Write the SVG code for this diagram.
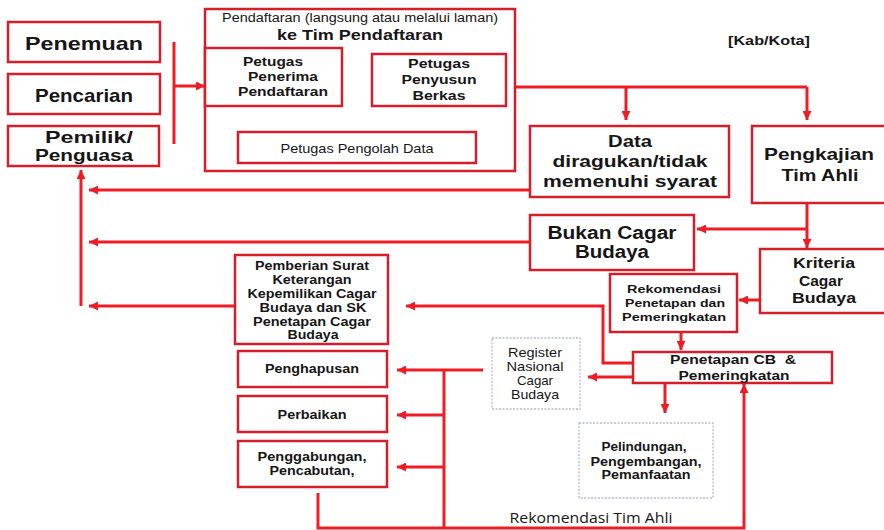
<svg xmlns="http://www.w3.org/2000/svg" width="884" height="530" viewBox="0 0 884 530">
<style>
.box{fill:#fff;stroke:#d41f2b;stroke-width:2.5}
.dbox{fill:#fff;stroke:#b3bcc6;stroke-width:1.3;stroke-dasharray:2 1.5}
.c{fill:none;stroke:#ee1c24;stroke-width:3}
.ca{fill:none;stroke:#ee1c24;stroke-width:3;marker-end:url(#ah)}
text{font-family:"Liberation Sans",Arial,sans-serif;fill:#161616;text-anchor:middle}
.b{font-weight:bold}
.o{font-family:"Open Sans","Liberation Sans",sans-serif}
</style>
<defs>
<marker id="ah" viewBox="0 0 10 10" refX="10" refY="5" markerWidth="10" markerHeight="9" markerUnits="userSpaceOnUse" orient="auto">
<path d="M0,0 L10,5 L0,10 z" fill="#ee1c24"/>
</marker>
</defs>
<rect width="884" height="530" fill="#fff"/>

<g id="connectors">
<path class="c" d="M174,42 V144"/>
<path class="ca" d="M174,86 H205"/>
<path class="ca" d="M293,106 V132"/>
<path class="ca" d="M419,132 V106"/>
<path class="c" d="M515,87 H807"/>
<path class="ca" d="M626,87 V120"/>
<path class="ca" d="M807,87 V120"/>
<path class="ca" d="M530,190 H89"/>
<path class="ca" d="M530,242 H89"/>
<path class="ca" d="M235,306 H89"/>
<path class="ca" d="M81,306 V170"/>
<path class="ca" d="M807,203 V248"/>
<path class="ca" d="M807,229 H697"/>
<path class="ca" d="M760,300 H739"/>
<path class="ca" d="M681,332 V350"/>
<path class="ca" d="M633,363 H603 V306 H406"/>
<path class="ca" d="M633,377 H588"/>
<path class="ca" d="M665,383 V413"/>
<path class="ca" d="M483,370 H397"/>
<path class="c" d="M444,370 V528"/>
<path class="ca" d="M444,415 H397"/>
<path class="ca" d="M444,467 H397"/>
<path class="ca" d="M318,493 V528 H744 V384"/>
</g>

<g id="penemuan"><rect class="box" x="8" y="22" width="152" height="40"/>
<text class="b" x="84" y="50" font-size="19" textLength="118" lengthAdjust="spacingAndGlyphs">Penemuan</text></g>
<g id="pencarian"><rect class="box" x="8" y="74" width="152" height="40"/>
<text class="b" x="84" y="102" font-size="19" textLength="98" lengthAdjust="spacingAndGlyphs">Pencarian</text></g>
<g id="pemilik"><rect class="box" x="8" y="126" width="151" height="40"/>
<text class="b" x="89" y="143" font-size="17" textLength="88" lengthAdjust="spacingAndGlyphs">Pemilik/</text>
<text class="b" x="84" y="161" font-size="17" textLength="98" lengthAdjust="spacingAndGlyphs">Penguasa</text></g>

<g id="pendaftaran"><rect class="box" x="205" y="9" width="310" height="162"/>
<text x="360" y="22" font-size="12.5" textLength="276" lengthAdjust="spacingAndGlyphs">Pendaftaran (langsung atau melalui laman)</text>
<text class="b" x="360" y="40" font-size="15" textLength="166" lengthAdjust="spacingAndGlyphs">ke Tim Pendaftaran</text></g>
<g id="penerima"><rect class="box" x="205" y="48" width="137" height="58"/>
<text class="b" x="273" y="66" font-size="13" textLength="60" lengthAdjust="spacingAndGlyphs">Petugas</text>
<text class="b" x="283" y="81" font-size="13" textLength="70" lengthAdjust="spacingAndGlyphs">Penerima</text>
<text class="b" x="283" y="96" font-size="13" textLength="90" lengthAdjust="spacingAndGlyphs">Pendaftaran</text></g>
<g id="penyusun"><rect class="box" x="372" y="54" width="134" height="52"/>
<text class="b" x="439" y="68" font-size="13" textLength="62" lengthAdjust="spacingAndGlyphs">Petugas</text>
<text class="b" x="439" y="84" font-size="13" textLength="75" lengthAdjust="spacingAndGlyphs">Penyusun</text>
<text class="b" x="439" y="100" font-size="13" textLength="53" lengthAdjust="spacingAndGlyphs">Berkas</text></g>
<g id="pengolah"><rect class="box" x="238" y="132" width="238" height="31"/>
<text x="357" y="153" font-size="13.5" textLength="153" lengthAdjust="spacingAndGlyphs">Petugas Pengolah Data</text></g>

<g id="kabkota"><text class="b" x="769" y="45" font-size="12.5" textLength="82" lengthAdjust="spacingAndGlyphs">[Kab/Kota]</text></g>

<g id="data"><rect class="box" x="530" y="126" width="199" height="71"/>
<text class="b" x="630" y="147" font-size="17" textLength="44" lengthAdjust="spacingAndGlyphs">Data</text>
<text class="b" x="630" y="167" font-size="17" textLength="155" lengthAdjust="spacingAndGlyphs">diragukan/tidak</text>
<text class="b" x="630" y="187" font-size="17" textLength="174" lengthAdjust="spacingAndGlyphs">memenuhi syarat</text></g>
<g id="pengkajian"><rect class="box" x="752" y="126" width="140" height="77"/>
<text class="b" x="819" y="160" font-size="17" textLength="110" lengthAdjust="spacingAndGlyphs">Pengkajian</text>
<text class="b" x="820" y="181" font-size="17" textLength="77" lengthAdjust="spacingAndGlyphs">Tim Ahli</text></g>
<g id="bukan"><rect class="box" x="530" y="215" width="164" height="55"/>
<text class="b" x="612" y="239" font-size="18" textLength="129" lengthAdjust="spacingAndGlyphs">Bukan Cagar</text>
<text class="b" x="612" y="258" font-size="18" textLength="74" lengthAdjust="spacingAndGlyphs">Budaya</text></g>
<g id="kriteria"><rect class="box" x="760" y="249" width="130" height="64"/>
<text class="b" x="824" y="268" font-size="14" textLength="62" lengthAdjust="spacingAndGlyphs">Kriteria</text>
<text class="b" x="821" y="286" font-size="14" textLength="44" lengthAdjust="spacingAndGlyphs">Cagar</text>
<text class="b" x="824" y="303" font-size="14" textLength="64" lengthAdjust="spacingAndGlyphs">Budaya</text></g>
<g id="rekomendasi"><rect class="box" x="610" y="274" width="127" height="58"/>
<text class="b" x="674" y="293" font-size="11.5" textLength="94" lengthAdjust="spacingAndGlyphs">Rekomendasi</text>
<text class="b" x="675" y="307" font-size="11.5" textLength="100" lengthAdjust="spacingAndGlyphs">Penetapan dan</text>
<text class="b" x="674" y="321" font-size="11.5" textLength="104" lengthAdjust="spacingAndGlyphs">Pemeringkatan</text></g>
<g id="penetapan"><rect class="box" x="633" y="352" width="199" height="31"/>
<text class="b" x="733" y="364" font-size="13" textLength="126" lengthAdjust="spacingAndGlyphs" xml:space="preserve">Penetapan CB  &amp;</text>
<text class="b" x="734" y="380" font-size="13" textLength="111" lengthAdjust="spacingAndGlyphs">Pemeringkatan</text></g>

<g id="register"><rect class="dbox" x="492" y="338" width="88" height="71"/>
<text x="535" y="357" font-size="13" textLength="54" lengthAdjust="spacingAndGlyphs">Register</text>
<text x="535" y="371" font-size="13" textLength="57" lengthAdjust="spacingAndGlyphs">Nasional</text>
<text x="535" y="385" font-size="13" textLength="36" lengthAdjust="spacingAndGlyphs">Cagar</text>
<text x="535" y="399" font-size="13" textLength="48" lengthAdjust="spacingAndGlyphs">Budaya</text></g>
<g id="pelindungan"><rect class="dbox" x="579" y="423" width="134" height="75"/>
<text class="b" x="644" y="451" font-size="12.5" textLength="85" lengthAdjust="spacingAndGlyphs">Pelindungan,</text>
<text class="b" x="646" y="466" font-size="12.5" textLength="111" lengthAdjust="spacingAndGlyphs">Pengembangan,</text>
<text class="b" x="646" y="479" font-size="12.5" textLength="89" lengthAdjust="spacingAndGlyphs">Pemanfaatan</text></g>
<g id="rekomendasi-tim"><text class="o" x="591" y="523" font-size="14" textLength="163" lengthAdjust="spacingAndGlyphs">Rekomendasi Tim Ahli</text></g>

<g id="pemberian"><rect class="box" x="235" y="255" width="153" height="89"/>
<text class="b" x="312" y="270" font-size="12.5" textLength="114" lengthAdjust="spacingAndGlyphs">Pemberian Surat</text>
<text class="b" x="312" y="284" font-size="12.5" textLength="79" lengthAdjust="spacingAndGlyphs">Keterangan</text>
<text class="b" x="312" y="298" font-size="12.5" textLength="129" lengthAdjust="spacingAndGlyphs">Kepemilikan Cagar</text>
<text class="b" x="313" y="312" font-size="12.5" textLength="107" lengthAdjust="spacingAndGlyphs">Budaya dan SK</text>
<text class="b" x="312" y="326" font-size="12.5" textLength="118" lengthAdjust="spacingAndGlyphs">Penetapan Cagar</text>
<text class="b" x="313" y="339" font-size="12.5" textLength="51" lengthAdjust="spacingAndGlyphs">Budaya</text></g>
<g id="penghapusan"><rect class="box" x="238" y="351" width="149" height="36"/>
<text class="b" x="312" y="373" font-size="12.5" textLength="94" lengthAdjust="spacingAndGlyphs">Penghapusan</text></g>
<g id="perbaikan"><rect class="box" x="238" y="396" width="149" height="36"/>
<text class="b" x="312" y="419" font-size="12.5" textLength="69" lengthAdjust="spacingAndGlyphs">Perbaikan</text></g>
<g id="penggabungan"><rect class="box" x="238" y="441" width="149" height="46"/>
<text class="b" x="312" y="461" font-size="12.5" textLength="109" lengthAdjust="spacingAndGlyphs">Penggabungan,</text>
<text class="b" x="312" y="475" font-size="12.5" textLength="85" lengthAdjust="spacingAndGlyphs">Pencabutan,</text></g>
</svg>
